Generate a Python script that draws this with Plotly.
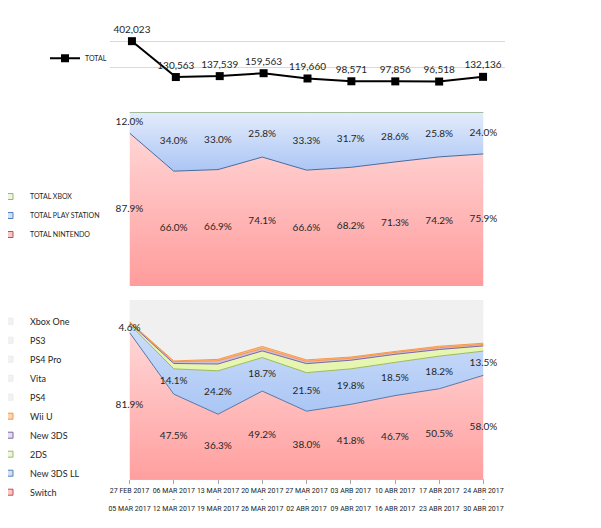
import numpy as np
import plotly.graph_objects as go

# week labels (the "ARB" typo is in the original)
week_start = ["27 FEB 2017", "06 MAR 2017", "13 MAR 2017", "20 MAR 2017", "27 MAR 2017",
              "03 ARB 2017", "10 ABR 2017", "17 ABR 2017", "24 ABR 2017"]
week_end = ["05 MAR 2017", "12 MAR 2017", "19 MAR 2017", "26 MAR 2017", "02 ABR 2017",
            "09 ABR 2017", "16 ABR 2017", "23 ABR 2017", "30 ABR 2017"]

# weekly units
total = [402023, 130563, 137539, 159563, 119660, 98571, 97856, 96518, 132136]

# share by platform family (%)
total_nintendo = [87.9, 66.0, 66.9, 74.1, 66.6, 68.2, 71.3, 74.2, 75.9]
total_playstation = [12.0, 34.0, 33.0, 25.8, 33.3, 31.7, 28.6, 25.8, 24.0]
total_xbox = [0.1, 0.0, 0.1, 0.1, 0.1, 0.1, 0.1, 0.0, 0.1]

# share by hardware (%)
switch = [81.9, 47.5, 36.3, 49.2, 38.0, 41.8, 46.7, 50.5, 58.0]
new_3ds_ll = [4.6, 14.1, 24.2, 18.7, 21.5, 19.8, 18.5, 18.2, 13.5]
two_ds = [0.8, 3.0, 3.8, 3.7, 5.0, 4.8, 4.5, 3.7, 2.9]
new_3ds = [0.4, 1.0, 1.8, 1.4, 1.3, 1.1, 1.1, 1.0, 0.8]
wii_u = [0.2, 0.4, 0.8, 1.1, 0.8, 0.7, 0.5, 0.8, 0.7]
ps4 = [9.0, 25.5, 24.6, 19.2, 24.9, 23.7, 21.4, 19.3, 18.0]
vita = [0.8, 2.4, 2.5, 1.9, 2.4, 2.3, 2.0, 1.8, 1.6]
ps4_pro = [1.8, 5.0, 4.8, 3.9, 5.0, 4.7, 4.3, 3.9, 3.7]
ps3 = [0.4, 1.1, 1.1, 0.8, 1.0, 1.0, 0.9, 0.8, 0.7]
xbox_one = [0.1, 0.0, 0.1, 0.1, 0.1, 0.1, 0.1, 0.0, 0.1]

# page is drawn with the browser's 8px body margin, so work in page pixels
OFF = 8
W, H = 601 - OFF, 528 - OFF
FONT = "Lato"
TICKFONT = "Roboto"
TXT = "#262626"
x = list(range(len(week_start)))
ticktext = [a + "<br>-<br>" + b for a, b in zip(week_start, week_end)]


def px_x(v):
    return (v - OFF) / W


def px_y(v):
    return 1 - (v - OFF) / H


def pct(v):
    return ["%.1f%%" % a for a in v]


def mids(series_list, idx):
    cum = np.cumsum(np.array(series_list, dtype=float), axis=0)
    lower = cum[idx] - np.array(series_list[idx])
    return (lower + cum[idx]) / 2


fig = go.Figure()

# --- top: total units line
fig.add_trace(go.Scatter(
    x=x, y=total, mode="lines+markers+text", name="TOTAL",
    line=dict(color="black", width=2),
    marker=dict(symbol="square", size=8, color="black"),
    text=["{:,}".format(v) for v in total], textposition="top center",
    textfont=dict(size=10, color=TXT, family=FONT), cliponaxis=False,
    xaxis="x", yaxis="y", legend="legend",
))

# --- middle: family share stacked area
fam = [
    ("TOTAL NINTENDO", total_nintendo, "#4a6a9c",
     [[0, "#ff9c9c"], [1, "#ffdada"]], 0, 95, "#f8c8c8", "#c0504d"),
    ("TOTAL PLAY STATION", total_playstation, "#8aa6d6",
     [[0, "#a4c1f4"], [1, "#e4ecfb"]], 62, 100, "#d3e0f3", "#4f81bd"),
    ("TOTAL XBOX", total_xbox, "#9bbb59",
     [[0, "#d7e4bd"], [1, "#d7e4bd"]], 0, 100, "#eef4e2", "#9bbb59"),
]
for name, vals, lc, cs, s0, s1, lg_fill, lg_line in fam:
    fig.add_trace(go.Scatter(
        x=x, y=vals, mode="lines", stackgroup="fam", name=name,
        line=dict(color=lc, width=1),
        fillgradient=dict(type="vertical", colorscale=cs, start=s0, stop=s1),
        xaxis="x2", yaxis="y2", showlegend=False, hoverinfo="skip",
    ))
fam_vals = [total_nintendo, total_playstation]
for i in range(2):
    fig.add_trace(go.Scatter(
        x=x, y=mids(fam_vals, i), mode="text", text=pct(fam_vals[i]),
        textfont=dict(size=10, color=TXT, family=FONT), cliponaxis=False,
        xaxis="x2", yaxis="y2", showlegend=False, hoverinfo="skip",
    ))
for name, vals, lc, cs, s0, s1, lg_fill, lg_line in fam[::-1]:
    fig.add_trace(go.Scatter(
        x=[None], y=[None], mode="markers", name=name,
        marker=dict(symbol="square", size=6, color=lg_fill, line=dict(color=lg_line, width=1)),
        xaxis="x2", yaxis="y2", legend="legend2",
    ))

# --- bottom: hardware share stacked area
grey = "#f0f0f0"
hw = [
    ("Switch", switch, "#5a76a6", [[0, "#ff9f9f"], [1, "#ffdcdc"]], 0, 90, "#f8c8c8", "#c0504d"),
    ("New 3DS LL", new_3ds_ll, "#9bbb59", [[0, "#a9c5f5"], [1, "#d0e0f9"]], 35, 90, "#d3e0f3", "#4f81bd"),
    ("2DS", two_ds, "#8064a2", [[0, "#e6f5b0"], [1, "#e6f5b0"]], 0, 100, "#eef4e2", "#9bbb59"),
    ("New 3DS", new_3ds, "#f79646", [[0, "#ccc0da"], [1, "#ccc0da"]], 0, 100, "#e4dfec", "#8064a2"),
    ("Wii U", wii_u, "#f79646", [[0, "#fac090"], [1, "#fac090"]], 0, 100, "#fcd5b4", "#f79646"),
    ("PS4", ps4, grey, [[0, grey], [1, grey]], 0, 100, "#f2f2f2", "#ebebeb"),
    ("Vita", vita, grey, [[0, grey], [1, grey]], 0, 100, "#f2f2f2", "#ebebeb"),
    ("PS4 Pro", ps4_pro, grey, [[0, grey], [1, grey]], 0, 100, "#f2f2f2", "#ebebeb"),
    ("PS3", ps3, grey, [[0, grey], [1, grey]], 0, 100, "#f2f2f2", "#ebebeb"),
    ("Xbox One", xbox_one, grey, [[0, grey], [1, grey]], 0, 100, "#f2f2f2", "#ebebeb"),
]
for name, vals, lc, cs, s0, s1, lg_fill, lg_line in hw:
    fig.add_trace(go.Scatter(
        x=x, y=vals, mode="lines", stackgroup="hw", name=name,
        line=dict(color=lc, width=1),
        fillgradient=dict(type="vertical", colorscale=cs, start=s0, stop=s1),
        xaxis="x3", yaxis="y3", showlegend=False, hoverinfo="skip",
    ))
hw_vals = [v[1] for v in hw]
for i in range(2):
    fig.add_trace(go.Scatter(
        x=x, y=mids(hw_vals, i), mode="text", text=pct(hw_vals[i]),
        textfont=dict(size=10, color=TXT, family=FONT), cliponaxis=False,
        xaxis="x3", yaxis="y3", showlegend=False, hoverinfo="skip",
    ))
for name, vals, lc, cs, s0, s1, lg_fill, lg_line in hw[::-1]:
    fig.add_trace(go.Scatter(
        x=[None], y=[None], mode="markers", name=name,
        marker=dict(symbol="square", size=6, color=lg_fill, line=dict(color=lg_line, width=1)),
        xaxis="x3", yaxis="y3", legend="legend3",
    ))

hidden = dict(showticklabels=False, showgrid=False, zeroline=False, showline=False, ticks="")
area_dom = [px_x(129.5), px_x(483.5)]

fig.update_layout(
    width=W, height=H,
    margin=dict(l=0, r=0, t=0, b=0, autoexpand=False),
    paper_bgcolor="white", plot_bgcolor="white",
    font=dict(family=FONT, color=TXT),
    xaxis=dict(domain=[px_x(110), px_x(505)], range=[-0.5, 8.5], anchor="y", **hidden),
    yaxis=dict(domain=[px_y(94.3), px_y(15)], range=[0, 600000], dtick=200000,
               showticklabels=False, showgrid=True, gridcolor="#d9d9d9", gridwidth=1,
               zeroline=False, anchor="x"),
    xaxis2=dict(domain=area_dom, range=[0, 8], anchor="y2", **hidden),
    yaxis2=dict(domain=[px_y(286), px_y(112)], range=[0, 100], anchor="x2", **hidden),
    xaxis3=dict(domain=area_dom, range=[0, 8], anchor="y3",
                tickmode="array", tickvals=x, ticktext=ticktext, tickangle=0,
                tickfont=dict(size=7, color="#1a1a1a", family=TICKFONT),
                ticks="outside", ticklen=4, tickcolor="#a6a6a6",
                showline=True, linecolor="#bfbfbf", showgrid=False, zeroline=False),
    yaxis3=dict(domain=[px_y(479.3), px_y(300)], range=[0, 100], anchor="x3", **hidden),
    legend=dict(x=px_x(45), y=px_y(58.3), xanchor="left", yanchor="middle",
                font=dict(size=7, family=FONT, color=TXT), bgcolor="rgba(0,0,0,0)"),
    legend2=dict(x=px_x(-10), y=px_y(215.5), xanchor="left", yanchor="middle",
                 font=dict(size=7, family=FONT, color=TXT), bgcolor="rgba(0,0,0,0)",
                 traceorder="normal"),
    legend3=dict(x=px_x(-10), y=px_y(406.7), xanchor="left", yanchor="middle",
                 font=dict(size=9, family=FONT, color=TXT), bgcolor="rgba(0,0,0,0)",
                 traceorder="normal"),
)

fig.write_html("out.html")
